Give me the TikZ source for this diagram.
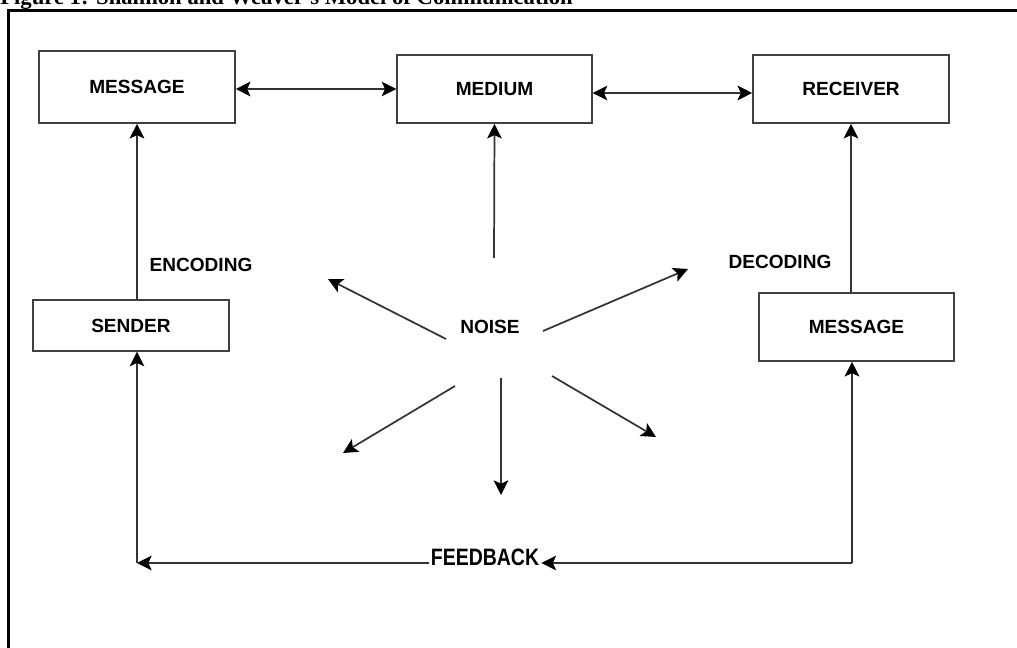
\documentclass[tikz,border=0pt]{standalone}
\usepackage{fontspec}
\setmainfont{Liberation Sans}
\newfontfamily\titlefont{Liberation Serif}
\usetikzlibrary{arrows.meta}
\tikzset{
  box/.style={draw=black!75, line width=1.2pt, inner sep=0pt, font=\fontsize{14.3}{17}\selectfont\bfseries},
  lbl/.style={inner sep=0pt, font=\fontsize{14.3}{17}\selectfont\bfseries},
  head/.tip={Stealth[length=11pt,width=11pt,inset=2.5pt,color=black]},
  arr/.style={draw=black!80, line width=1.3pt, -{head}},
  dbl/.style={draw=black!80, line width=1.3pt, {head}-{head}},
  frame/.style={line width=2.3pt}
}
\begin{document}
\begin{tikzpicture}[x=0.75pt, y=-0.75pt]
      \useasboundingbox (0,0) rectangle (1017,648);
      \node[anchor=base west, inner sep=0pt] (title) at (0,5){\titlefont\fontsize{17}{20}\selectfont\bfseries Figure 1: Shannon and Weaver's Model of Communication};
      \draw[frame] (8.5,660) |- (1030,10.5);
      \node[box, minimum width=147pt, minimum height=54pt] (msg) at (137, 87){MESSAGE};
      \node[box, minimum width=146pt, minimum height=51pt] (medium) at (494.5, 89){MEDIUM};
      \node[box, minimum width=147pt, minimum height=51pt] (receiver) at (851, 89){RECEIVER};
      \node[box, minimum width=147pt, minimum height=38pt] (sender) at (131, 325.5){SENDER};
      \node[box, minimum width=146pt, minimum height=51pt] (msgR) at (856.5, 327){MESSAGE};
      \node[lbl] (enc) at (201, 265){ENCODING};
      \node[lbl] (dec) at (780, 262){DECODING};
      \node[lbl] (noise) at (490, 327){NOISE};
      \node[lbl, font=\fontsize{17.8}{20}\selectfont\bfseries, xscale=0.82, inner xsep=2pt] (fb) at (485, 557){FEEDBACK};
      \coordinate (up) at (494, 258);
      \coordinate (n1s) at (446, 339);
      \coordinate (n1e) at (328, 279);
      \coordinate (n2s) at (543, 331);
      \coordinate (n2e) at (688, 269);
      \coordinate (n3s) at (455, 386);
      \coordinate (n3e) at (343, 453);
      \coordinate (n4s) at (501, 378);
      \coordinate (n4e) at (501, 495);
      \coordinate (n5s) at (552, 376);
      \coordinate (n5e) at (656, 437);
      \coordinate (fbR) at (852, 563);
      \coordinate (fbL) at (137, 563);
      \draw[dbl] (msg.east |- medium.west) -- (medium.west);
      \draw[dbl] ([yshift=-3pt]medium.east) -- ([yshift=-3pt]receiver.west);
      \draw[arr] (msg.south |- sender.north) -- (msg.south);
      \draw[arr] (receiver.south |- msgR.north) -- (receiver.south);
      \draw[arr] (up) -- (medium.south);
      \draw[arr] (n1s) -- (n1e);
      \draw[arr] (n2s) -- (n2e);
      \draw[arr] (n3s) -- (n3e);
      \draw[arr] (n4s) -- (n4e);
      \draw[arr] (n5s) -- (n5e);
      \draw[arr] (fbR) -- (fbR |- msgR.south);
      \draw[arr] (fbR) -- (fbR -| fb.east);
      \draw[arr] (fbL -| fb.west) -- (fbL);
      \draw[arr] (fbL) -- (fbL |- sender.south);
    \end{tikzpicture}
\end{document}
